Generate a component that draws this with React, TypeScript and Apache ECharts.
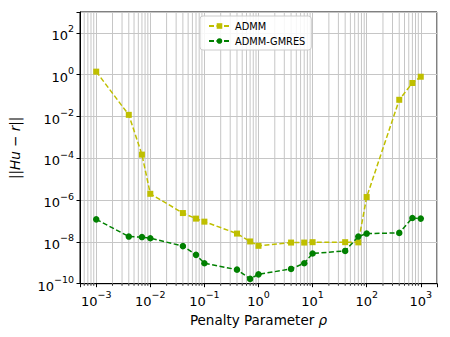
import React, { useEffect, useRef } from 'react';
import * as echarts from 'echarts';

// Penalty parameter values (x)
const rho = [0.001, 0.004, 0.007, 0.01, 0.04, 0.07, 0.1, 0.4, 0.7, 1, 4, 7, 10, 40, 70, 100, 400, 700, 1000];
// ||Hu - r|| for ADMM
const admm = [1.4, 1.2e-2, 1.5e-4, 2.0e-6, 2.4e-7, 1.3e-7, 9.3e-8, 2.5e-8, 1.05e-8, 6.5e-9, 9.3e-9, 9.3e-9, 9.7e-9, 9.7e-9, 9.5e-9, 1.4e-6, 6.3e-2, 0.4, 0.8];
// ||Hu - r|| for ADMM-GMRES
const admmGmres = [1.2e-7, 1.8e-8, 1.7e-8, 1.5e-8, 6.3e-9, 2.4e-9, 9.5e-10, 4.7e-10, 1.7e-10, 2.8e-10, 5.1e-10, 9.5e-10, 2.8e-9, 3.7e-9, 1.8e-8, 2.5e-8, 2.7e-8, 1.4e-7, 1.3e-7];

const seriesNames = ['ADMM', 'ADMM-GMRES'];
const xLimits = [Math.pow(10, -3.3), Math.pow(10, 3.3)];
const yLimits = [1e-10, 1e3];
const minorMultipliers = [2, 3, 4, 5, 6, 7, 8, 9];
const minorDecades = [-4, -3, -2, -1, 0, 1, 2, 3];

const FONT = 'DejaVu Sans';

function expLabel(v: number, step: number): string {
  const e = Math.log10(v);
  const r = Math.round(e);
  if (Math.abs(e - r) > 1e-6) return '';
  if (((r % step) + step) % step !== 0) return '';
  const s = r < 0 ? '\u2212' + Math.abs(r) : String(r);
  return `{b|10}{s|${s}}`;
}

const labelRich = {
  b: { fontFamily: FONT, fontSize: 13, color: '#000', verticalAlign: 'bottom', lineHeight: 18 },
  s: { fontFamily: FONT, fontSize: 9.5, color: '#000', verticalAlign: 'top', lineHeight: 12 },
};

export default function App() {
  const ref = useRef<HTMLDivElement>(null);
  useEffect(() => {
    if (!ref.current) return;
    const chart = echarts.init(ref.current, null, { renderer: 'svg' });

    const minorX: number[] = [];
    minorDecades.forEach((k) => {
      minorMultipliers.forEach((m) => {
        const v = m * Math.pow(10, k);
        if (v > xLimits[0] * 1.001 && v < xLimits[1] * 0.999) minorX.push(v);
      });
    });
    const tickEnd = yLimits[0] / Math.pow(10, 0.1);
    const gridData: any[] = [];
    const tickData: any[] = [];
    minorX.forEach((v) => {
      gridData.push([v, yLimits[0]], [v, yLimits[1]], [v, '-']);
      tickData.push([v, yLimits[0]], [v, tickEnd], [v, '-']);
    });

    chart.setOption({
      animation: false,
      backgroundColor: '#fff',
      grid: {
        left: 76.7,
        right: 13,
        top: 12,
        bottom: 53.3,
        show: true,
        borderColor: '#000',
        borderWidth: 1,
        backgroundColor: 'transparent',
      },
      legend: {
        orient: 'vertical',
        left: 200,
        top: 16,
        data: seriesNames,
        itemWidth: 21,
        itemHeight: 7,
        itemGap: 3,
        padding: [4, 6, 3, 8],
        backgroundColor: 'rgba(255,255,255,0.85)',
        borderColor: '#cccccc',
        borderWidth: 1,
        borderRadius: 3,
        textStyle: { fontFamily: FONT, fontSize: 9.8, color: '#000', lineHeight: 12 },
      },
      xAxis: {
        type: 'log',
        logBase: 10,
        min: xLimits[0],
        max: xLimits[1],
        name: '{t|Penalty Parameter }{i|ρ}',
        nameLocation: 'middle',
        nameGap: 22,
        nameTextStyle: {
          rich: {
            t: { fontFamily: FONT, fontSize: 13.5, color: '#000' },
            i: { fontFamily: FONT, fontSize: 13.5, color: '#000', fontStyle: 'italic' },
          },
        },
        axisLine: { show: true, lineStyle: { color: '#000', width: 1 } },
        axisTick: { show: true, length: 3.5, lineStyle: { color: '#000', width: 1 } },
        axisLabel: {
          margin: 6,
          formatter: (v: number) => expLabel(v, 1),
          rich: labelRich,
          showMinLabel: true,
          showMaxLabel: true,
        },
        splitLine: { show: true, lineStyle: { color: '#c6c6c6', width: 1 } },
      },
      yAxis: {
        type: 'log',
        logBase: 10,
        min: yLimits[0],
        max: yLimits[1],
        interval: 2,
        name: '{n|||}{i|Hu}{n| \u2212 }{i|r}{n|||}',
        nameLocation: 'middle',
        nameGap: 58,
        nameRotate: 90,
        nameTextStyle: {
          rich: {
            n: { fontFamily: FONT, fontSize: 13.5, color: '#000' },
            i: { fontFamily: FONT, fontSize: 13.5, color: '#000', fontStyle: 'italic' },
          },
        },
        axisLine: { show: true, lineStyle: { color: '#000', width: 1 } },
        axisTick: { show: true, length: 3.5, lineStyle: { color: '#000', width: 1 } },
        axisLabel: {
          margin: 6,
          formatter: (v: number) => expLabel(v, 2),
          rich: labelRich,
        },
        splitLine: { show: true, lineStyle: { color: '#c6c6c6', width: 1 } },
      },
      series: [
        {
          name: '__minorGrid',
          type: 'line',
          data: gridData,
          silent: true,
          symbol: 'none',
          connectNulls: false,
          lineStyle: { color: '#c6c6c6', width: 1 },
          z: 1,
        },
        {
          name: '__minorTicks',
          type: 'line',
          data: tickData,
          silent: true,
          symbol: 'none',
          clip: false,
          connectNulls: false,
          lineStyle: { color: '#000', width: 0.8 },
          z: 1,
        },
        {
          name: seriesNames[0],
          type: 'line',
          data: rho.map((x, i) => [x, admm[i]]),
          symbol: 'rect',
          symbolSize: 6,
          color: '#bfbf00',
          lineStyle: { color: '#bfbf00', width: 1.5, type: [5, 2.5] },
          itemStyle: { color: '#bfbf00' },
          z: 3,
        },
        {
          name: seriesNames[1],
          type: 'line',
          data: rho.map((x, i) => [x, admmGmres[i]]),
          symbol: 'circle',
          symbolSize: 6.5,
          color: '#008000',
          lineStyle: { color: '#008000', width: 1.5, type: [5, 2.5] },
          itemStyle: { color: '#008000' },
          z: 4,
        },
      ],
    });
    return () => chart.dispose();
  }, []);
  return <div ref={ref} style={{ width: 450, height: 337, position: 'absolute', left: 0, top: 0 }} />;
}
